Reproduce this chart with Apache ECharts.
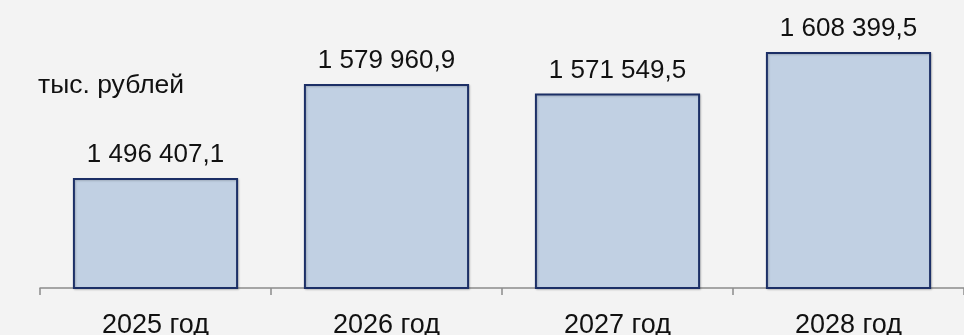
<!DOCTYPE html>
<html>
<head>
<meta charset="utf-8">
<script src="https://cdn.jsdelivr.net/npm/echarts@6/dist/echarts.min.js"></script>
<style>
  html, body { margin: 0; padding: 0; background: #f3f3f3; }
  #chart { width: 964px; height: 335px; }
</style>
</head>
<body>
<div id="chart"></div>
<script>
// Budget volume by year, thousand roubles
const years = ['2025 год', '2026 год', '2027 год', '2028 год'];
const amounts = [1496407.1, 1579960.9, 1571549.5, 1608399.5];
const unitLabel = 'тыс. рублей';

// "1 496 407,1" style: space-grouped thousands, comma decimal
function formatRu(v) {
  const [intPart, frac] = v.toFixed(1).split('.');
  return intPart.replace(/\B(?=(\d{3})+(?!\d))/g, ' ') + ',' + frac;
}

const font = '"Liberation Sans", Arial, Helvetica, sans-serif';
const chart = echarts.init(document.getElementById('chart'));
chart.setOption({
  backgroundColor: '#f3f3f3',
  animation: false,
  graphic: [{
    type: 'text',
    left: 38,
    top: 72,
    style: { text: unitLabel, font: '26.5px ' + font, fill: '#111' }
  }],
  grid: { left: 40, right: 0, top: 0, bottom: 47, outerBoundsMode: 'none', containLabel: false },
  xAxis: {
    type: 'category',
    data: years,
    axisLine: { lineStyle: { color: '#8c8c8c', width: 1.5 } },
    axisTick: { show: true, length: 7, lineStyle: { color: '#8c8c8c', width: 1.5 } },
    axisLabel: { color: '#111', fontFamily: font, fontSize: 27, margin: 24 }
  },
  yAxis: {
    type: 'value',
    min: 1398600,
    max: 1654600,
    show: false,
    splitLine: { show: false }
  },
  series: [{
    type: 'bar',
    data: amounts,
    barWidth: '71.5%',
    itemStyle: {
      color: '#c1d0e3',
      borderColor: '#1c2f66',
      borderWidth: 2,
      shadowColor: 'rgba(0,0,0,0.18)',
      shadowBlur: 2,
      shadowOffsetX: 1,
      shadowOffsetY: 1
    },
    label: {
      show: true,
      position: 'top',
      distance: 10,
      color: '#111',
      fontFamily: font,
      fontSize: 26,
      formatter: p => formatRu(p.value)
    }
  }]
});
</script>
</body>
</html>
